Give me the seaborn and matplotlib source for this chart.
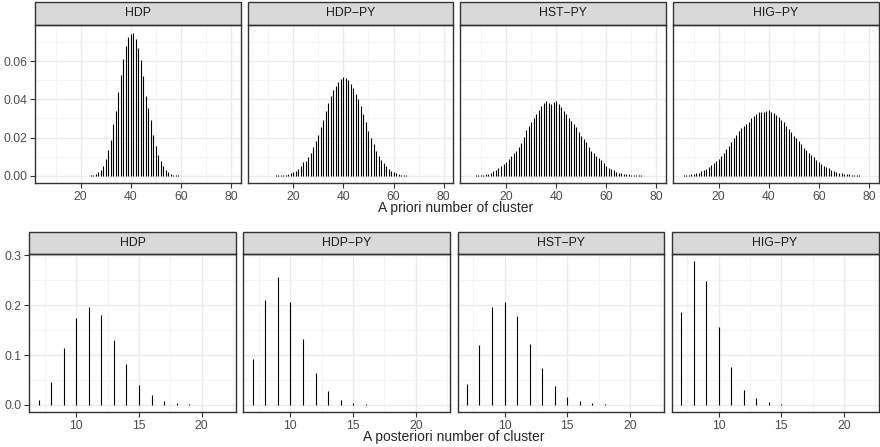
import numpy as np
import pandas as pd
import seaborn as sns
import matplotlib
matplotlib.use("Agg")
import matplotlib.pyplot as plt
from matplotlib.patches import Rectangle
from matplotlib.ticker import MultipleLocator

# facet labels
models = ["HDP", "HDP\u2212PY", "HST\u2212PY", "HIG\u2212PY"]

# a priori distributions (first k, then probabilities for k, k+1, ...)
prior_start = [22, 11, 6, 6]
prior_hdp = [0.0001, 0.0001, 0.0002, 0.0003, 0.0010, 0.0019, 0.0030, 0.0050, 0.0090, 0.0136,
             0.0190, 0.0270, 0.0340, 0.0440, 0.0525, 0.0610, 0.0677, 0.0726, 0.0740, 0.0748,
             0.0717, 0.0668, 0.0607, 0.0520, 0.0420, 0.0354, 0.0293, 0.0215, 0.0154, 0.0110,
             0.0075, 0.0049, 0.0031, 0.0019, 0.0010, 0.0005, 0.0003, 0.0002, 0.0001, 0.0001,
             0.0001]
prior_hdp_py = [0.0001, 0.0001, 0.0002, 0.0002, 0.0003, 0.0004, 0.0005, 0.0007, 0.0014, 0.0020,
                0.0026, 0.0035, 0.0050, 0.0070, 0.0080, 0.0096, 0.0120, 0.0150, 0.0180, 0.0215,
                0.0257, 0.0290, 0.0340, 0.0380, 0.0416, 0.0450, 0.0470, 0.0490, 0.0507, 0.0515,
                0.0513, 0.0500, 0.0480, 0.0458, 0.0428, 0.0400, 0.0367, 0.0323, 0.0283, 0.0236,
                0.0200, 0.0166, 0.0131, 0.0105, 0.0084, 0.0065, 0.0049, 0.0035, 0.0026, 0.0019,
                0.0014, 0.0009, 0.0005, 0.0003, 0.0002, 0.0001, 0.0001, 0.0001]
prior_hst_py = [0.0001, 0.0001, 0.0002, 0.0003, 0.0004, 0.0006, 0.0008, 0.0012, 0.0017, 0.0023,
                0.0031, 0.0041, 0.0052, 0.0062, 0.0073, 0.0090, 0.0105, 0.0118, 0.0131, 0.0150,
                0.0171, 0.0205, 0.0238, 0.0260, 0.0279, 0.0300, 0.0323, 0.0345, 0.0363, 0.0380,
                0.0393, 0.0380, 0.0375, 0.0385, 0.0389, 0.0375, 0.0358, 0.0340, 0.0323, 0.0305,
                0.0288, 0.0270, 0.0253, 0.0230, 0.0210, 0.0192, 0.0175, 0.0152, 0.0131, 0.0118,
                0.0105, 0.0093, 0.0082, 0.0066, 0.0052, 0.0043, 0.0035, 0.0028, 0.0021, 0.0017,
                0.0014, 0.0011, 0.0009, 0.0007, 0.0005, 0.0004, 0.0003, 0.0002, 0.0002, 0.0001,
                0.0001, 0.0001, 0.0001]
prior_hig_py = [0.0002, 0.0003, 0.0005, 0.0007, 0.0009, 0.0013, 0.0017, 0.0023, 0.0030, 0.0037,
                0.0044, 0.0055, 0.0066, 0.0076, 0.0087, 0.0105, 0.0122, 0.0140, 0.0157, 0.0177,
                0.0196, 0.0216, 0.0236, 0.0250, 0.0262, 0.0272, 0.0283, 0.0300, 0.0314, 0.0325,
                0.0332, 0.0334, 0.0336, 0.0338, 0.0344, 0.0336, 0.0327, 0.0317, 0.0306, 0.0293,
                0.0280, 0.0262, 0.0245, 0.0228, 0.0210, 0.0197, 0.0183, 0.0165, 0.0148, 0.0135,
                0.0122, 0.0109, 0.0096, 0.0085, 0.0073, 0.0062, 0.0052, 0.0046, 0.0040, 0.0033,
                0.0026, 0.0021, 0.0017, 0.0013, 0.0010, 0.0008, 0.0007, 0.0005, 0.0003, 0.0002,
                0.0002, 0.0001, 0.0001, 0.0001, 0.0001]

# a posteriori distributions, k = 7..21
post_k = [7, 8, 9, 10, 11, 12, 13, 14, 15, 16, 17, 18, 19, 20, 21]
post_hdp = [0.0094, 0.0468, 0.1136, 0.1750, 0.1960, 0.1797, 0.1296, 0.0822, 0.0407, 0.0207,
            0.0073, 0.0027, 0.0010, 0.0003, 0.0001]
post_hdp_py = [0.0915, 0.2104, 0.2572, 0.2071, 0.1316, 0.0641, 0.0287, 0.0100, 0.0040, 0.0013,
               0.0005, 0.0002, 0.0001, 0.0, 0.0]
post_hst_py = [0.0414, 0.1202, 0.1957, 0.2071, 0.1790, 0.1216, 0.0735, 0.0374, 0.0160, 0.0073,
               0.0027, 0.0013, 0.0005, 0.0002, 0.0001]
post_hig_py = [0.1857, 0.2886, 0.2478, 0.1556, 0.0762, 0.0307, 0.0134, 0.0047, 0.0013, 0.0005,
               0.0002, 0.0001, 0.0, 0.0, 0.0]

frames = []
for m, s, p in zip(models, prior_start, [prior_hdp, prior_hdp_py, prior_hst_py, prior_hig_py]):
    frames.append(pd.DataFrame({"kind": "prior", "model": m, "k": np.arange(s, s + len(p)), "p": p}))
for m, p in zip(models, [post_hdp, post_hdp_py, post_hst_py, post_hig_py]):
    frames.append(pd.DataFrame({"kind": "post", "model": m, "k": post_k, "p": p}))
df = pd.concat(frames, ignore_index=True)

sns.set_theme(style="white")
plt.rcParams["font.family"] = ["Liberation Sans", "DejaVu Sans"]

W, H = 880, 447
g = sns.FacetGrid(df, row="kind", col="model", row_order=["prior", "post"], col_order=models,
                  sharex=False, sharey=False, despine=False, height=2, aspect=1)


def spikes(data, color=None, **kw):
    plt.vlines(data["k"], 0, data["p"], colors="black", linewidth=0.8)


g.map_dataframe(spikes)
g.set_titles("")
g.set_axis_labels("", "")
fig = g.figure
fig.set_size_inches(W / 100, H / 100)

# panel boxes in pixels
rows = [
    dict(lefts=[35, 247.7, 460.4, 673.1], width=205.5, top=25, bottom=183, strip=23,
         xlim=(1.8, 83.8), ylim=(-0.00375, 0.0789), xmaj=20, xmin=10, ymaj=0.02, ymin=0.01,
         yfmt="{:.2f}"),
    dict(lefts=[29.3, 243.4, 457.5, 671.6], width=206.9, top=254, bottom=412, strip=22.5,
         xlim=(6.25, 22.75), ylim=(-0.0144, 0.303), xmaj=5, xmin=2.5, ymaj=0.1, ymin=0.05,
         yfmt="{:.1f}"),
]

for r, spec in enumerate(rows):
    h = spec["bottom"] - spec["top"]
    for c in range(4):
        ax = g.axes[r, c]
        ax.set_position([spec["lefts"][c] / W, (H - spec["bottom"]) / H, spec["width"] / W, h / H])
        ax.set_xlim(*spec["xlim"])
        ax.set_ylim(*spec["ylim"])
        ax.xaxis.set_major_locator(MultipleLocator(spec["xmaj"]))
        ax.xaxis.set_minor_locator(MultipleLocator(spec["xmin"]))
        ax.yaxis.set_major_locator(MultipleLocator(spec["ymaj"]))
        ax.yaxis.set_minor_locator(MultipleLocator(spec["ymin"]))
        ax.set_axisbelow(True)
        ax.grid(which="major", color="#EBEBEB", linewidth=1.0)
        ax.grid(which="minor", color="#F2F2F2", linewidth=0.6)
        for sp in ax.spines.values():
            sp.set_color("#333333")
            sp.set_linewidth(1.0)
        ax.tick_params(which="major", direction="out", length=3.5, width=0.8, color="#333333",
                       labelcolor="#4D4D4D", labelsize=8.8, pad=2, bottom=True)
        ax.tick_params(which="minor", length=0)
        if c == 0:
            ax.tick_params(axis="y", left=True, labelleft=True)
            ax.set_yticklabels([spec["yfmt"].format(v) for v in ax.get_yticks()])
        else:
            ax.tick_params(axis="y", left=False, labelleft=False)
        # strip
        sh = spec["strip"] / h
        ax.add_patch(Rectangle((0, 1), 1, sh, transform=ax.transAxes, clip_on=False,
                               facecolor="#D9D9D9", edgecolor="#333333", linewidth=1.0))
        ax.text(0.5, 1 + sh / 2, models[c], transform=ax.transAxes, ha="center", va="center",
                fontsize=8.8, color="#1A1A1A")

fig.text(456 / W, 1 - 208 / H, "A priori number of cluster", ha="center", va="center", fontsize=10)
fig.text(454 / W, 1 - 437 / H, "A posteriori number of cluster", ha="center", va="center", fontsize=10)

fig.savefig("out.png", dpi=100)
